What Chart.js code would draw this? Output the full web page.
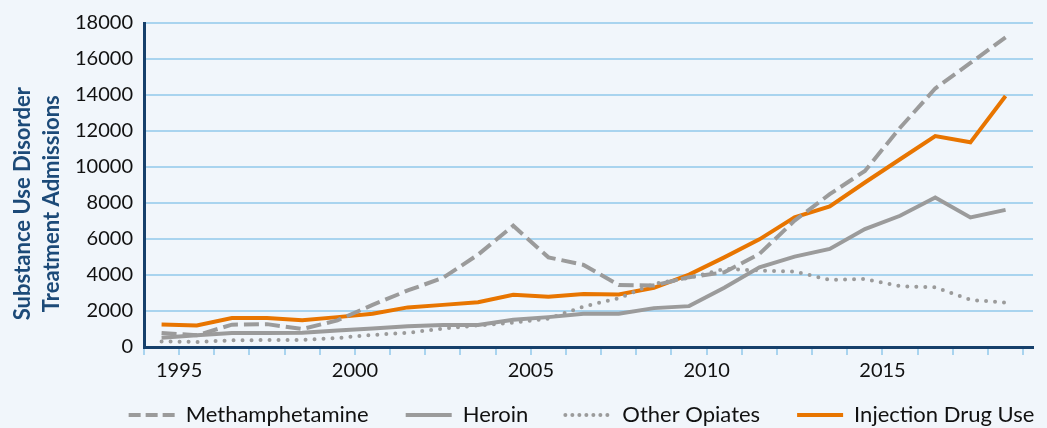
<!DOCTYPE html>
<html>
<head>
<meta charset="utf-8">
<script src="https://cdn.jsdelivr.net/npm/chart.js@4"></script>
<style>
  html, body { margin: 0; padding: 0; background: #f1f6fb; }
  #wrap { width: 1047px; height: 428px; }
</style>
</head>
<body>
<div id="wrap"><canvas id="graph1" width="1047" height="428"></canvas></div>
<script>
// admissions by year
const years = [1994, 1995, 1996, 1997, 1998, 1999, 2000, 2001, 2002, 2003, 2004, 2005, 2006,
               2007, 2008, 2009, 2010, 2011, 2012, 2013, 2014, 2015, 2016, 2017, 2018];

const meth     = [780, 650, 1240, 1270, 1000, 1480, 2340, 3140, 3840, 5130, 6740, 4980, 4560,
                  3450, 3420, 3880, 4150, 5170, 7020, 8490, 9780, 12180, 14360, 15780, 17200];
const heroin   = [520, 650, 780, 780, 790, 920, 1030, 1150, 1220, 1220, 1510, 1660, 1850,
                  1850, 2160, 2270, 3290, 4430, 5020, 5450, 6550, 7290, 8310, 7200, 7620];
const opiates  = [310, 280, 370, 390, 390, 500, 670, 790, 1020, 1200, 1350, 1570, 2250,
                  2710, 3510, 3840, 4340, 4250, 4190, 3730, 3780, 3380, 3320, 2620, 2460];
const idu      = [1250, 1200, 1610, 1610, 1480, 1660, 1850, 2200, 2340, 2490, 2900, 2790, 2950,
                  2920, 3290, 4020, 4980, 5980, 7200, 7810, 9140, 10430, 11720, 11370, 13940];

const yTicks = [0, 2000, 4000, 6000, 8000, 10000, 12000, 14000, 16000, 18000];
const xLabels = [1995, 2000, 2005, 2010, 2015];

// each year is drawn in the middle of its band
function toPoints(values){
    return values.map((v, i) => ({x: years[i] + 0.5, y: v}));
}

const GRAY   = '#9b9b9b';
const ORANGE = '#e87500';
const NAVY   = '#16406b';
const GRID   = '#a9d4ef';

// the legend in the picture sits right of the canvas centre and close under the axis labels
const legendShift = {
    id: 'legendShift',
    afterLayout(chart){
        chart.legend.left   += 65;
        chart.legend.right  += 65;
        chart.legend.top    -= 20;
        chart.legend.bottom -= 20;
    }
};

window.addEventListener("load", function (){
    draw_chart();
});

function draw_chart(){
    const ctx = document.getElementById("graph1").getContext('2d');
    const myChart = new Chart(ctx, {
        type: 'line',
        data: {
            datasets: [
                {
                    label: "Methamphetamine",
                    data: toPoints(meth),
                    borderColor: GRAY,
                    backgroundColor: GRAY,
                    borderWidth: 4,
                    borderDash: [15, 6],
                    legendDash: [12, 5],
                },
                {
                    label: "Heroin",
                    data: toPoints(heroin),
                    borderColor: GRAY,
                    backgroundColor: GRAY,
                    borderWidth: 4,
                },
                {
                    label: "Other Opiates",
                    data: toPoints(opiates),
                    borderColor: GRAY,
                    backgroundColor: GRAY,
                    borderWidth: 4,
                    borderDash: [0, 9],
                    borderCapStyle: 'round',
                    legendDash: [0, 7],
                },
                {
                    label: "Injection Drug Use",
                    data: toPoints(idu),
                    borderColor: ORANGE,
                    backgroundColor: ORANGE,
                    borderWidth: 4,
                },
            ]
        },
        plugins: [legendShift],
        options: {
            responsive: false,
            animation: false,
            events: [],
            elements: {
                point: { radius: 0 },
                line: { tension: 0, borderJoinStyle: 'miter' }
            },
            layout: {
                padding: { left: 0, right: 14, top: 12, bottom: -28 }
            },
            plugins: {
                tooltip: { enabled: false },
                legend: {
                    position: 'bottom',
                    labels: {
                        usePointStyle: true,
                        pointStyle: 'line',
                        pointStyleWidth: 46,
                        boxHeight: 8,
                        padding: 37,
                        color: '#111',
                        font: { family: 'Lato', size: 22 },
                        generateLabels: function(chart){
                            const items = Chart.defaults.plugins.legend.labels.generateLabels(chart);
                            items.forEach(it => {
                                const ds = chart.data.datasets[it.datasetIndex];
                                it.lineDash = ds.legendDash || [];
                                it.lineCap = ds.borderCapStyle || 'butt';
                                it.pointStyle = 'line';
                            });
                            return items;
                        }
                    }
                }
            },
            scales: {
                x: {
                    type: 'linear',
                    min: 1994,
                    max: 2019.28,
                    border: { color: NAVY, width: 3 },
                    grid: {
                        drawOnChartArea: false,
                        color: GRID,
                        lineWidth: 2,
                        tickLength: 8,
                    },
                    ticks: {
                        stepSize: 1,
                        includeBounds: false,
                        autoSkip: false,
                        maxRotation: 0,
                        padding: 4,
                        color: '#111',
                        font: { family: 'Lato', size: 20 },
                        callback: v => xLabels.includes(v) ? String(v) : '',
                    },
                },
                y: {
                    min: 0,
                    max: 18000,
                    afterBuildTicks: scale => { scale.ticks = yTicks.map(v => ({value: v})); },
                    afterFit: scale => { scale.width = 144; },
                    border: { color: NAVY, width: 3 },
                    grid: {
                        color: GRID,
                        lineWidth: 2,
                        drawTicks: false,
                    },
                    ticks: {
                        autoSkip: false,
                        padding: 11,
                        color: '#111',
                        font: { family: 'Lato', size: 20 },
                        callback: v => String(v),
                    },
                    title: {
                        display: true,
                        // trailing spaces nudge the centred title a little lower, as in the picture
                        text: ["Substance Use Disorder       ", "Treatment Admissions       "],
                        color: '#1c4a78',
                        font: { family: 'Lato', size: 22, weight: 'bold', lineHeight: 1.32 },
                        padding: { top: 8, bottom: 0 },
                    },
                }
            }
        }
    });
}
</script>
</body>
</html>
